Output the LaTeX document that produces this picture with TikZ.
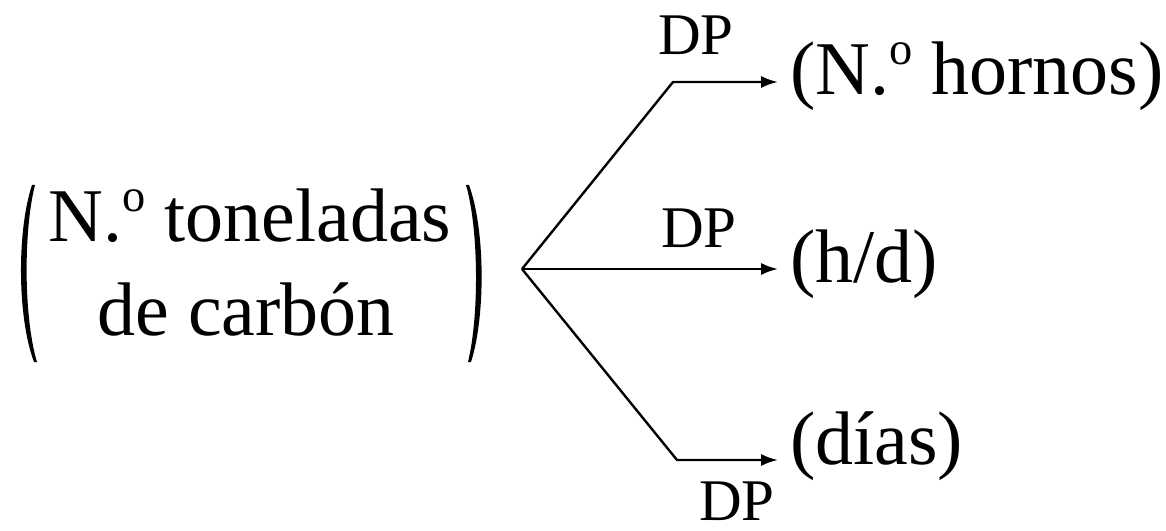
\documentclass[tikz,border=0pt]{standalone}
\usepackage{fontspec}
\setmainfont{Liberation Serif}
\usetikzlibrary{arrows.meta}
\newcommand{\ordo}{\raisebox{.4em}{\fontsize{33}{33}\selectfont o}}
\begin{document}
\begin{tikzpicture}[x=0.025cm,y=-0.025cm,
  big/.style={font=\fontsize{54}{64}\selectfont, inner sep=0pt},
  lbl/.style={font=\fontsize{42}{48}\selectfont, inner sep=0pt, anchor=base},
  target/.style={big, inner xsep=0.3cm, anchor=base west},
  conn/.style={line width=1.7pt, line join=round, -{Latex[length=0.42cm,width=0.3cm]}},
  paren/.style={fill=black, draw=none}]
\useasboundingbox (0,0) rectangle (1166,531);
% source text
\node[big, anchor=base] (src1) at (250,242) {N.\ordo\ toneladas};
\node[big, anchor=base] (src2) at (246,335) {de carbón};
% parentheses around the source
\fill[paren] (32,185) .. controls (17,230) and (17,317) .. (34,362)
  -- (37,362) .. controls (23.5,317) and (23.5,230) .. (35,185) -- cycle;
\fill[paren] (469,185) .. controls (485.5,230) and (485.5,317) .. (471,362)
  -- (468,362) .. controls (479,317) and (479,230) .. (466,185) -- cycle;
% targets
\node[target] (t1) at (778,95) {(N.\ordo\ hornos)};
\node[target] (t2) at (778,282) {(h/d)};
\node[target] (t3) at (778,464) {(días)};
% branch point and corners
\coordinate (b) at (522,269);
\coordinate (c1) at (673,82);
\coordinate (c3) at (677,460);
% connectors
\draw[conn] (b) -- (c1) -- (c1 -| t1.west);
\draw[conn] (b) -- (b -| t2.west);
\draw[conn] (b) -- (c3) -- (c3 -| t3.west);
% labels
\node[lbl] (d1) at (696,55) {DP};
\node[lbl] (d2) at (699,248) {DP};
\node[lbl] (d3) at (737,520) {DP};
\end{tikzpicture}
\end{document}
